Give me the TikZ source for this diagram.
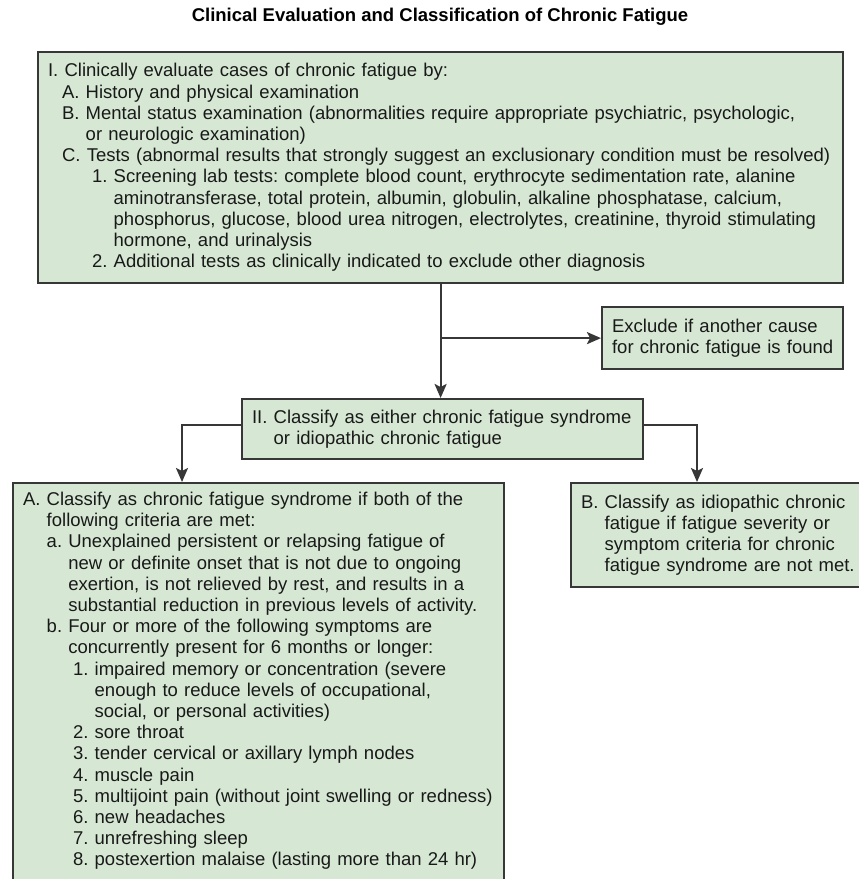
\documentclass[tikz,border=0pt]{standalone}
\usepackage{fontspec}
\setmainfont{Liberation Sans}
\frenchspacing
\usetikzlibrary{arrows.meta}
\definecolor{boxfill}{RGB}{214,232,212}
\definecolor{boxline}{RGB}{55,55,55}
\newcommand\Ln[2]{\hspace*{#1}\mbox{#2}}
\begin{document}
\begin{tikzpicture}[x=1pt,y=-1pt,
  box/.style={draw=boxline, line width=2.2pt, fill=boxfill, anchor=north west,
    align=left, inner xsep=10pt, inner ysep=0pt, text=black!90,
    font=\fontsize{18.5}{21.2}\selectfont\frenchspacing},
  arr/.style={draw=boxline, line width=2.2pt, -{Stealth[length=14pt,width=12pt,inset=3pt]}}]
\clip (0,0) rectangle (859,879);
\fill[white] (0,0) rectangle (859,879);

\node[font=\fontsize{18.5}{22}\selectfont\bfseries] (title) at (440,17)
  {Clinical Evaluation and Classification of Chronic Fatigue};

\node[box, text width=785pt, minimum height=231pt] (top) at (37,51) {%
\Ln{0pt}{I. Clinically evaluate cases of chronic fatigue by:}\\
\Ln{14pt}{A. History and physical examination}\\
\Ln{14pt}{B. Mental status examination (abnormalities require appropriate psychiatric, psychologic,}\\
\Ln{14pt}{\phantom{B. }or neurologic examination)}\\
\Ln{14pt}{C. Tests (abnormal results that strongly suggest an exclusionary condition must be resolved)}\\
\Ln{44pt}{1. Screening lab tests: complete blood count, erythrocyte sedimentation rate, alanine}\\
\Ln{44pt}{\phantom{1. }aminotransferase, total protein, albumin, globulin, alkaline phosphatase, calcium,}\\
\Ln{44pt}{\phantom{1. }phosphorus, glucose, blood urea nitrogen, electrolytes, creatinine, thyroid stimulating}\\
\Ln{44pt}{\phantom{1. }hormone, and urinalysis}\\
\Ln{44pt}{2. Additional tests as clinically indicated to exclude other diagnosis}};

\node[box, text width=221pt, minimum height=62pt] (excl) at (601,306) {%
\Ln{0pt}{Exclude if another cause}\\
\Ln{0pt}{for chronic fatigue is found}};

\node[box, text width=381pt, minimum height=60pt] (II) at (241,398) {%
\Ln{0pt}{II. Classify as either chronic fatigue syndrome}\\
\Ln{0pt}{\phantom{II. }or idiopathic chronic fatigue}};

\node[box, text width=471pt, inner ysep=9pt] (A) at (12,482) {%
\Ln{0pt}{A. Classify as chronic fatigue syndrome if both of the}\\
\Ln{0pt}{\phantom{A. }following criteria are met:}\\
\Ln{0pt}{\phantom{A. }a. Unexplained persistent or relapsing fatigue of}\\
\Ln{0pt}{\phantom{A. a. }new or definite onset that is not due to ongoing}\\
\Ln{0pt}{\phantom{A. a. }exertion, is not relieved by rest, and results in a}\\
\Ln{0pt}{\phantom{A. a. }substantial reduction in previous levels of activity.}\\
\Ln{0pt}{\phantom{A. }b. Four or more of the following symptoms are}\\
\Ln{0pt}{\phantom{A. a. }concurrently present for 6 months or longer:}\\
\Ln{50pt}{1. impaired memory or concentration (severe}\\
\Ln{50pt}{\phantom{1. }enough to reduce levels of occupational,}\\
\Ln{50pt}{\phantom{1. }social, or personal activities)}\\
\Ln{50pt}{2. sore throat}\\
\Ln{50pt}{3. tender cervical or axillary lymph nodes}\\
\Ln{50pt}{4. muscle pain}\\
\Ln{50pt}{5. multijoint pain (without joint swelling or redness)}\\
\Ln{50pt}{6. new headaches}\\
\Ln{50pt}{7. unrefreshing sleep}\\
\Ln{50pt}{8. postexertion malaise (lasting more than 24 hr)}\rule[-30pt]{0pt}{30pt}};

\node[box, text width=270pt, minimum height=104pt] (B) at (570,482) {%
\Ln{0pt}{B. Classify as idiopathic chronic}\\
\Ln{0pt}{\phantom{B. }fatigue if fatigue severity or}\\
\Ln{0pt}{\phantom{B. }symptom criteria for chronic}\\
\Ln{0pt}{\phantom{B. }fatigue syndrome are not met.}};

\draw[arr] (top.south) -- (top.south |- II.north);
\draw[arr] (top.south |- excl.west) -- (excl.west);
\draw[arr] ([yshift=4pt]II.west) -| ([xshift=170pt]A.north west);
\draw[arr] ([yshift=4pt]II.east) -| ([xshift=127pt]B.north west);
\end{tikzpicture}
\end{document}
